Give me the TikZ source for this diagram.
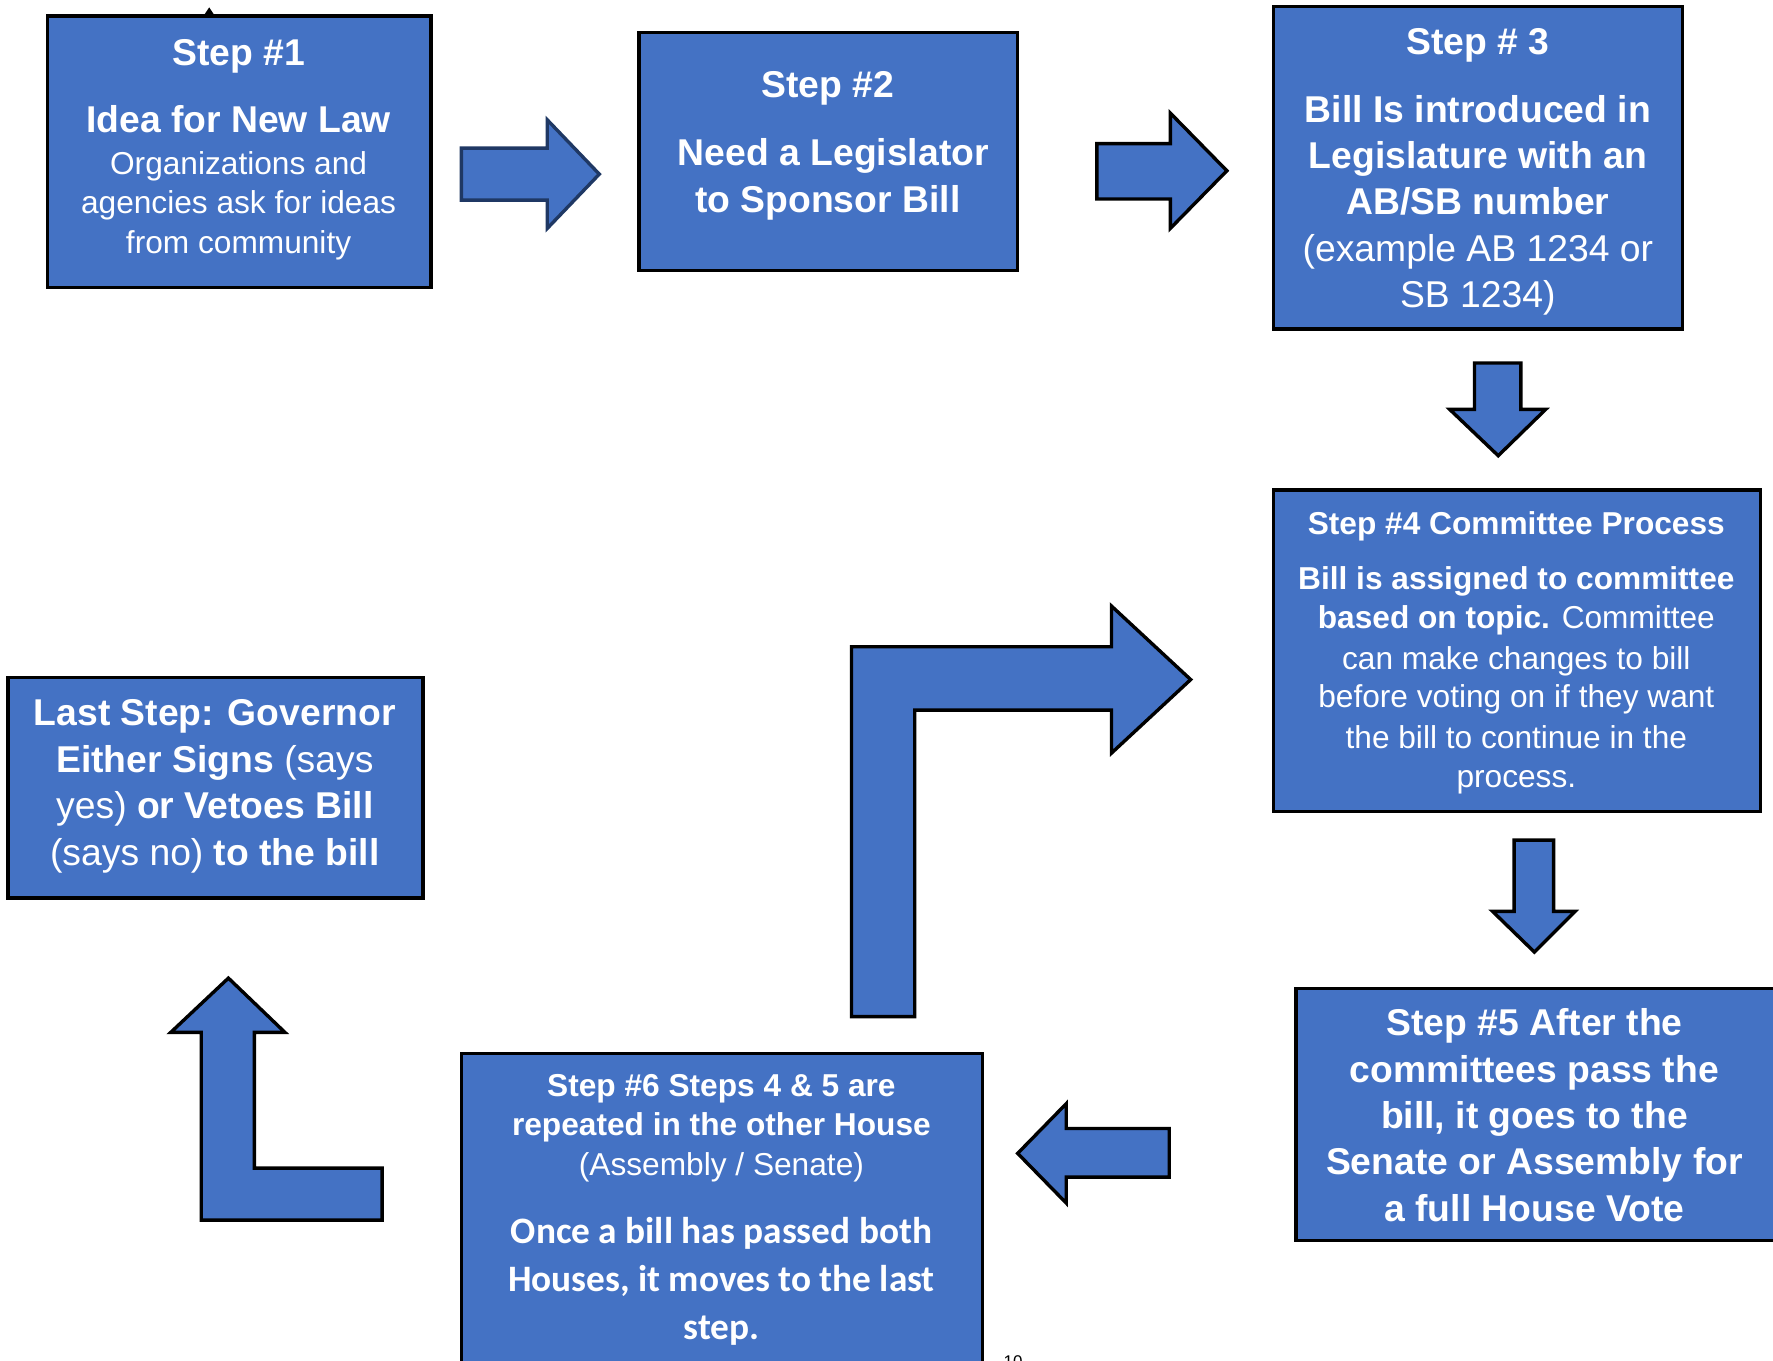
\documentclass[tikz,border=0pt]{standalone}
\usepackage{fontspec}
\setmainfont{Liberation Sans}
\newfontfamily\calfont{Carlito}
\definecolor{boxblue}{HTML}{4472C4}
\definecolor{navyline}{HTML}{1F3864}
\begin{document}
\begin{tikzpicture}[x=1pt,y=-1pt,
  stepbox/.style={draw=black, line width=3pt, fill=boxblue, inner sep=0pt},
  blockarrow/.style={draw=black, line width=3pt, fill=boxblue, line join=miter},
  lbl/.style={text=white, inner sep=0pt, anchor=base, yshift=-2pt},
  bigb/.style={lbl, font=\fontsize{33}{40}\selectfont\bfseries},
  bigr/.style={lbl, font=\fontsize{33}{40}\selectfont},
  midb/.style={lbl, font=\fontsize{28}{34}\selectfont\bfseries},
  midr/.style={lbl, font=\fontsize{28}{34}\selectfont},
  calb/.style={lbl, font=\calfont\fontsize{33}{40}\selectfont\bfseries},
]
\path[use as bounding box] (0,0) rectangle (1568,1203);
\clip (0,0) rectangle (1568,1203);

% boxes
\node[stepbox, minimum width=339pt, minimum height=240pt] (s1) at (211.5,134) {};
\node[stepbox, minimum width=335pt, minimum height=210pt] (s2) at (732.5,134) {};
\node[stepbox, minimum width=362pt, minimum height=285pt] (s3) at (1307,148.5) {};
\node[stepbox, minimum width=431pt, minimum height=284pt] (s4) at (1341.5,575.5) {};
\node[stepbox, minimum width=440pt, minimum height=223pt] (s5) at (1366,985.5) {};
\node[stepbox, minimum width=461pt, minimum height=300pt] (s6) at (638.5,1081.5) {};
\node[stepbox, minimum width=367pt, minimum height=195pt] (s7) at (190.5,696.5) {};

% small tick on top of step 1
\fill[black] (180,14) -- (185,6.5) -- (190,14) -- cycle;

% step 1 text
\node[bigb] (s1a) at (211,56) {Step \#1};
\node[bigb] (s1b) at (211,115) {Idea for New Law};
\node[midr] (s1c) at (211,152) {Organizations and};
\node[midr] (s1d) at (211,187) {agencies ask for ideas};
\node[midr] (s1e) at (211,222) {from community};

% step 2 text
\node[bigb] (s2a) at (732,84) {Step \#2};
\node[bigb] (s2b) at (737,144) {Need a Legislator};
\node[bigb] (s2c) at (732,186) {to Sponsor Bill};

% step 3 text
\node[bigb] (s3a) at (1307,46) {Step \# 3};
\node[bigb] (s3b) at (1307,106) {Bill Is introduced in};
\node[bigb] (s3c) at (1307,147) {Legislature with an};
\node[bigb] (s3d) at (1307,188) {AB/SB number};
\node[bigr] (s3e) at (1307,229) {(example AB 1234 or};
\node[bigr] (s3f) at (1307,270) {SB 1234)};

% step 4 text
\node[midb] (s4a) at (1341,471) {Step \#4 Committee Process};
\node[midb] (s4b) at (1341,519) {Bill is assigned to committee};
\node[midr] (s4c) at (1341,554) {\textbf{based on topic.} Committee};
\node[midr] (s4d) at (1341,590) {can make changes to bill};
\node[midr] (s4e) at (1341,624) {before voting on if they want};
\node[midr] (s4f) at (1341,660) {the bill to continue in the};
\node[midr] (s4g) at (1341,694) {process.};

% step 5 text
\node[bigb] (s5a) at (1357,914) {Step \#5 After the};
\node[bigb] (s5b) at (1357,955) {committees pass the};
\node[bigb] (s5c) at (1357,996) {bill, it goes to the};
\node[bigb] (s5d) at (1357,1037) {Senate or Assembly for};
\node[bigb] (s5e) at (1357,1078) {a full House Vote};

% step 6 text
\node[midb] (s6a) at (638,968) {Step \#6 Steps 4 \& 5 are};
\node[midb] (s6b) at (638,1002) {repeated in the other House};
\node[midr] (s6c) at (638,1038) {(Assembly / Senate)};
\node[calb] (s6d) at (638,1098) {Once a bill has passed both};
\node[calb] (s6e) at (638,1140) {Houses, it moves to the last};
\node[calb] (s6f) at (638,1183) {step.};

% last step text
\node[bigb] (s7a) at (190,640) {Last Step: Governor};
\node[bigr] (s7b) at (190,681) {\textbf{Either Signs} (says};
\node[bigr] (s7c) at (190,722) {yes) \textbf{or Vetoes Bill}};
\node[bigr] (s7d) at (190,763) {(says no) \textbf{to the bill}};

% page number (cut off at the lower edge, as in the reference)
\node[anchor=base, inner sep=0pt, font=\fontsize{15}{18}\selectfont] (pg) at (896,1209) {10};

% block arrows
\draw[blockarrow, draw=navyline] (408,131) -- (484,131) -- (484,106) -- (530,154) -- (484,202) -- (484,177) -- (408,177) -- cycle;
\draw[blockarrow] (970,127) -- (1035,127) -- (1035,100) -- (1085,151) -- (1035,202) -- (1035,176) -- (970,176) -- cycle;
\draw[blockarrow] (1304,321) -- (1345,321) -- (1345,362) -- (1367,362) -- (1325,403) -- (1282,362) -- (1304,362) -- cycle;
\draw[blockarrow] (1339,743) -- (1374,743) -- (1374,806) -- (1393,806) -- (1357,842) -- (1320,806) -- (1339,806) -- cycle;
\draw[blockarrow] (1034,998) -- (943,998) -- (943,976) -- (900,1020) -- (943,1064) -- (943,1041) -- (1034,1041) -- cycle;
\draw[blockarrow] (753,899) -- (753,572) -- (983,572) -- (983,536) -- (1053,601) -- (983,666) -- (983,628) -- (809,628) -- (809,899) -- cycle;
\draw[blockarrow] (202,865) -- (252,913) -- (225,913) -- (225,1033) -- (338,1033) -- (338,1079) -- (178,1079) -- (178,913) -- (151,913) -- cycle;
\end{tikzpicture}
\end{document}
